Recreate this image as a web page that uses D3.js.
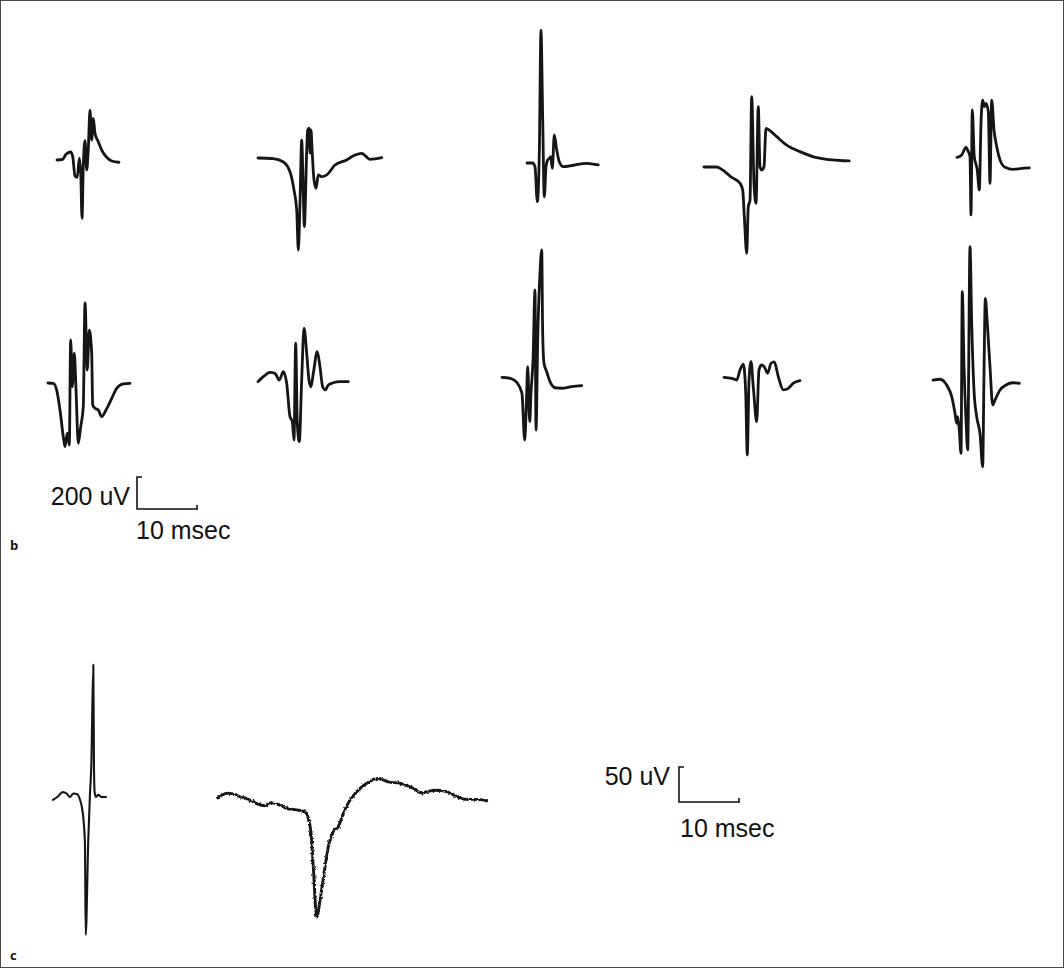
<!DOCTYPE html>
<html><head><meta charset="utf-8">
<script src="https://cdn.jsdelivr.net/npm/d3@7"></script>
<style>body{margin:0;background:#fff} svg{display:block}</style>
</head><body>
<script>
// ---- data: [time (ms), potential (uV)] ----
const b1 = [[0,0],[0.95,4],[1.5,36],[2.28,50],[2.62,21],[3,-100],[3.38,-108],[3.72,11],[3.95,-73],[4.17,-364],[4.38,-42],[4.67,121],[4.95,-62],[5.22,73],[5.5,312],[5.78,125],[6.05,260],[6.33,167],[6.88,114],[7.45,62],[8.28,17],[9.12,-6],[10.33,-14]];
const b2 = [[0,0],[2.5,-4],[4.17,-23],[5.33,-86],[6,-200],[6.45,-325],[6.72,-575],[7,-281],[7.28,112],[7.55,-219],[7.72,-429],[8.12,50],[8.28,175],[8.5,186],[8.67,31],[8.83,175],[9,62],[9.33,-137],[9.67,-189],[10.05,-106],[10.62,-117],[11.45,-106],[12.83,-44],[14.78,-12],[16.17,19],[17.28,29],[18.67,-8],[20.62,2]];
const b3 = [[0,0],[0.95,0],[1.33,-23],[1.72,-242],[2.05,61],[2.33,831],[2.62,269],[2.88,-211],[3.17,-23],[3.45,19],[3.72,29],[3.95,39],[4.22,-33],[4.55,175],[4.95,81],[5.38,8],[6.05,-23],[7.72,-14],[9.95,-2],[11.88,-12]];
const b4 = [[0,0],[2.12,0],[2.95,-15],[4.62,-65],[6,-102],[6.45,-144],[6.72,-310],[7.12,-540],[7.38,-248],[7.67,-206],[7.95,440],[8.33,-102],[8.67,-227],[9.05,377],[9.33,2],[9.62,-19],[10,2],[10.33,242],[11,227],[12.12,190],[13.78,137],[16,96],[18.78,58],[23.22,39],[24.2,38]];
const b5 = [[0,4],[0.78,19],[1.5,67],[1.88,40],[2.17,8],[2.33,-356],[2.55,300],[2.88,8],[3.38,-75],[3.72,-200],[4,217],[4.28,362],[4.55,321],[4.83,342],[5.22,290],[5.5,-158],[5.78,362],[6.17,175],[6.62,71],[7.17,-12],[8,-58],[9.38,-71],[10.78,-65],[12.05,-62]];
const b6 = [[0,0],[0.88,-2],[1.45,-44],[2,-169],[2.55,-336],[2.83,-398],[3.22,-314],[3.55,-388],[3.78,269],[4.05,-23],[4.38,186],[4.67,-44],[5.05,-377],[5.45,-273],[5.88,-148],[6.17,500],[6.55,81],[6.88,331],[7.28,186],[7.45,-137],[7.83,-158],[8.38,-169],[8.95,-211],[9.67,-169],[10.62,-96],[11.45,-33],[12.55,-6],[13.67,-2]];
const b7 = [[0,-4],[0.88,27],[2,54],[2.83,48],[3.55,6],[4.22,58],[4.78,-14],[5.33,-223],[5.72,-254],[6,-369],[6.28,236],[6.55,-264],[6.88,-379],[7.28,6],[7.67,331],[8.12,173],[8.5,6],[8.83,-36],[9.22,48],[9.88,183],[10.33,89],[10.78,-36],[11.22,-56],[11.72,-25],[12.55,-11],[13.67,-4],[15.05,-4]];
const b8 = [[0,4],[1.38,-2],[2.5,-29],[3.33,-96],[3.78,-388],[4.05,-179],[4.28,71],[4.62,-273],[4.83,-96],[5.17,112],[5.5,550],[5.67,-325],[5.95,237],[6.33,654],[6.62,800],[6.78,279],[7,92],[7.45,39],[8,-23],[8.83,-61],[9.95,-64],[11.62,-54],[13.28,-48]];
const b9 = [[0,-2],[1.28,-8],[2.12,-19],[2.67,44],[3.22,81],[3.62,-102],[3.88,-488],[4.17,-19],[4.5,96],[4.88,-61],[5.45,-279],[5.83,44],[6.28,75],[6.72,64],[7.28,23],[7.83,86],[8.38,94],[9.05,2],[9.88,-81],[10.72,-71],[11.55,-39],[12.67,-23]];
const b10 = [[0,6],[1.12,11],[2.28,-25],[3.12,-98],[3.67,-202],[3.95,-264],[4.12,-223],[4.38,-306],[4.67,-452],[4.88,558],[5.17,89],[5.5,-244],[5.78,-431],[6.17,839],[6.45,361],[6.83,-56],[7.28,-223],[7.83,-327],[8.28,-536],[8.5,48],[8.72,517],[9.05,361],[9.5,89],[9.95,-150],[10.33,-119],[11.17,-56],[12.17,-25],[13.38,-11],[14.38,-14]];
const c1 = [[0,-4],[0.72,0],[1.62,7],[2.28,5],[2.83,0],[3.38,5],[4.05,4],[4.5,-4],[4.78,-13],[5.12,-36],[5.33,-69],[5.45,-197],[5.88,-61],[6.17,6],[6.38,43],[6.72,189],[6.83,43],[6.95,6],[7.17,0],[7.55,3],[8.12,0],[8.83,0]];
const c2 = [[0,0],[0.62,4],[1.72,7],[3.67,2],[5.33,-3],[6.45,-8],[7.83,-11],[8.67,-7],[10.05,-9],[11.45,-15],[13.12,-17],[14.5,-20],[15.05,-29],[15.5,-50],[15.88,-98],[16.45,-170],[17,-146],[17.67,-108],[18.38,-70],[19.22,-48],[20.05,-41],[20.88,-22],[22,-3],[23.12,9],[24.78,21],[26.72,28],[28.38,23],[30.33,21],[32.55,14],[33.95,7],[34.78,9],[36.45,11],[38.12,9],[39.78,2],[41.45,-2],[43.12,-2],[44.78,-4]];

// scale bars: [amplitude uV, duration ms]
const scaleAmps = [200, 50];
const scaleTimes = [10, 10];
const ampUnit = "uV", timeUnit = "msec";
const panelLabels = ["b", "c"];

// ---- layout ----
const W = 1064, H = 968;
const panels = {
  b: {pxPerMs: 6, pxPerUv: 32 / 200, stroke: 2.8},
  c: {pxPerMs: 6, pxPerUv: 35 / 50, stroke: 2.1}
};
const traces = [
  {d: b1, p: "b", x: 57, y: 160},
  {d: b2, p: "b", x: 258, y: 158},
  {d: b3, p: "b", x: 527, y: 163},
  {d: b4, p: "b", x: 704, y: 167},
  {d: b5, p: "b", x: 957, y: 158},
  {d: b6, p: "b", x: 48, y: 383},
  {d: b7, p: "b", x: 258, y: 381},
  {d: b8, p: "b", x: 502, y: 378},
  {d: b9, p: "b", x: 724, y: 377},
  {d: b10, p: "b", x: 933, y: 381},
  {d: c1, p: "c", x: 53, y: 797},
  {d: c2, p: "c", x: 218, y: 798, rough: true}
];

const svg = d3.select("body").append("svg").attr("width", W).attr("height", H);
svg.append("rect").attr("x", 0.5).attr("y", 0.5).attr("width", W - 1).attr("height", H - 1)
  .attr("fill", "#fff").attr("stroke", "#4a4a4a").attr("stroke-width", 1);

const defs = svg.append("defs");
const f = defs.append("filter").attr("id", "rough").attr("x", "-5%").attr("y", "-5%").attr("width", "110%").attr("height", "110%");
f.append("feTurbulence").attr("type", "fractalNoise").attr("baseFrequency", 0.45).attr("numOctaves", 2).attr("seed", 3).attr("result", "n");
f.append("feDisplacementMap").attr("in", "SourceGraphic").attr("in2", "n").attr("scale", 3.2).attr("xChannelSelector", "R").attr("yChannelSelector", "G");

function scalesFor(t) {
  const P = panels[t.p];
  const x = d3.scaleLinear().domain([0, 1]).range([t.x, t.x + P.pxPerMs]);
  const y = d3.scaleLinear().domain([0, 1]).range([t.y, t.y - P.pxPerUv]);
  return {x, y, P};
}

traces.forEach(t => {
  const {x, y, P} = scalesFor(t);
  const line = d3.line().x(d => x(d[0])).y(d => y(d[1])).curve(d3.curveMonotoneX);
  const path = svg.append("path").attr("d", line(t.d)).attr("fill", "none")
    .attr("stroke", "#151515").attr("stroke-width", P.stroke)
    .attr("stroke-linejoin", "round").attr("stroke-linecap", "round");
  if (t.rough) path.attr("filter", "url(#rough)").attr("stroke-width", 2.9);
});

// scale bars
const bars = [
  {p: "b", x: 137, y: 509, amp: scaleAmps[0], time: scaleTimes[0], ampTx: 130, ampTy: 505, timeTx: 136, timeTy: 539},
  {p: "c", x: 679, y: 802, amp: scaleAmps[1], time: scaleTimes[1], ampTx: 670, ampTy: 785, timeTx: 680, timeTy: 837}
];
bars.forEach(b => {
  const P = panels[b.p];
  const x = d3.scaleLinear().domain([0, 1]).range([b.x, b.x + P.pxPerMs]);
  const y = d3.scaleLinear().domain([0, 1]).range([b.y, b.y - P.pxPerUv]);
  const g = svg.append("g").attr("stroke", "#111").attr("stroke-width", 1.6).attr("fill", "none");
  g.append("path").attr("d",
    `M${x(0) + 5},${y(b.amp)} H${x(0)} V${y(0)} H${x(b.time)} M${x(b.time)},${y(0) - 4} V${y(0) + 1}`);
  svg.append("text").attr("x", b.ampTx).attr("y", b.ampTy).attr("text-anchor", "end")
    .attr("font-family", "Liberation Sans, Arial, sans-serif").attr("font-size", 25).attr("fill", "#111")
    .text(`${b.amp} ${ampUnit}`);
  svg.append("text").attr("x", b.timeTx).attr("y", b.timeTy)
    .attr("font-family", "Liberation Sans, Arial, sans-serif").attr("font-size", 25).attr("fill", "#111")
    .text(`${b.time} ${timeUnit}`);
});

// panel labels
[[panelLabels[0], 10, 550], [panelLabels[1], 10, 960]].forEach(([t, x, y]) => {
  svg.append("text").attr("x", x).attr("y", y).attr("font-family", "Open Sans, DejaVu Sans, sans-serif")
    .attr("font-weight", "bold").attr("font-size", 13).attr("fill", "#111").text(t);
});
</script>
</body></html>
